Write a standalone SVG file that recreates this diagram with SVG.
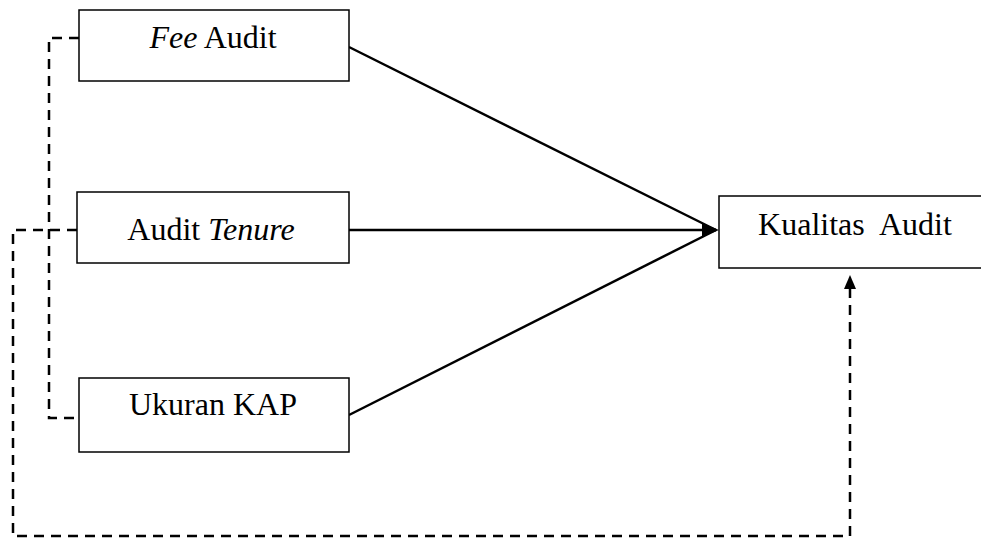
<svg xmlns="http://www.w3.org/2000/svg" width="981" height="539" viewBox="0 0 981 539">
<style>
.box{fill:#fff;stroke:#000;stroke-width:1.5}
.t{font-family:"Liberation Serif","Times New Roman",serif;font-size:32px;fill:#000;text-anchor:middle}
.solid{stroke:#000;stroke-width:2.5;fill:none}
.dash{stroke:#000;stroke-width:2.5;fill:none;stroke-dasharray:10 7}
</style>
<g id="connectors">
<path class="dash" d="M79,38 H49 V418 H79"/>
<path class="dash" d="M77,230 H13 V536 H850 V289"/>
<path d="M844,289 L850,275 L856,289 z" fill="#000"/>
<line class="solid" x1="349" y1="47" x2="716" y2="230"/>
<line class="solid" x1="349" y1="230" x2="716" y2="230"/>
<line class="solid" x1="349" y1="415" x2="716" y2="230"/>
<path d="M702,223 L719,230 L702,237 z" fill="#000"/>
</g>
<g id="fee">
<rect class="box" x="79" y="10" width="270" height="71"/>
<text class="t" x="213" y="48"><tspan font-style="italic">Fee</tspan> Audit</text>
</g>
<g id="tenure">
<rect class="box" x="77" y="192" width="272" height="71"/>
<text class="t" x="211" y="240">Audit <tspan font-style="italic">Tenure</tspan></text>
</g>
<g id="kap">
<rect class="box" x="79" y="378" width="270" height="74"/>
<text class="t" x="213" y="415">Ukuran KAP</text>
</g>
<g id="kualitas">
<rect class="box" x="719" y="196" width="270" height="72"/>
<text class="t" x="855" y="235" xml:space="preserve">Kualitas  Audit</text>
</g>
</svg>
